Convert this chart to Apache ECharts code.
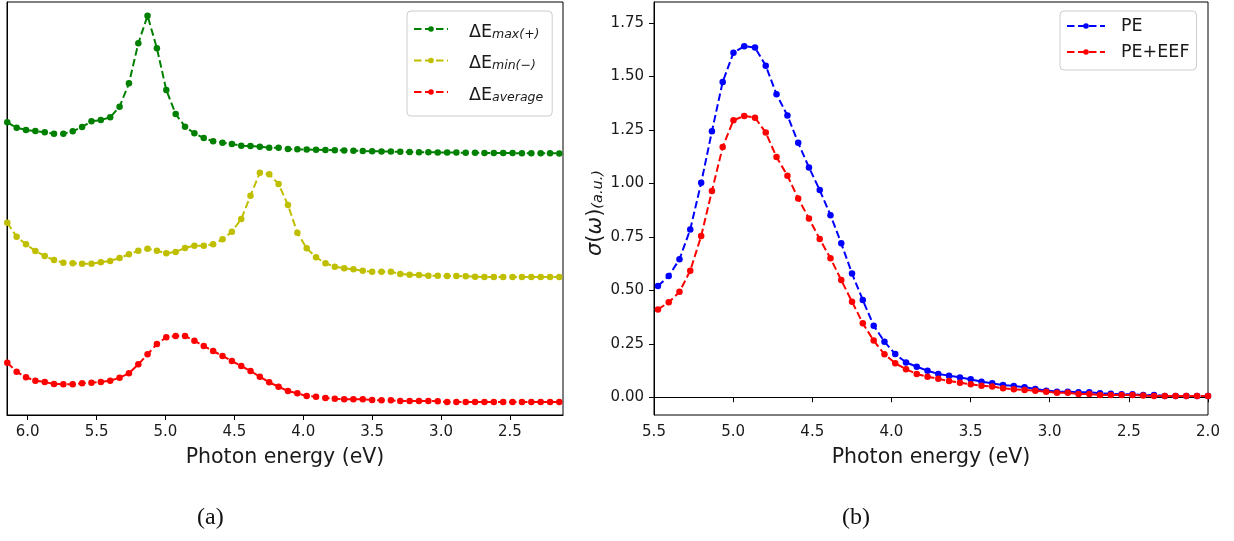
<!DOCTYPE html>
<html>
<head>
<meta charset="utf-8">
<script src="https://cdn.jsdelivr.net/npm/echarts@6/dist/echarts.min.js"></script>
<style>
html,body{margin:0;padding:0;background:#fff;}
#chart{width:1234px;height:541px;}
</style>
</head>
<body>
<div id="chart"></div>
<script>
// ---------- Panel (a) data ----------
const energyA = [6.148,6.080,6.012,5.944,5.876,5.809,5.741,5.673,5.605,5.537,
  5.469,5.401,5.333,5.265,5.197,5.130,5.062,4.994,4.926,4.858,
  4.790,4.722,4.654,4.586,4.518,4.450,4.383,4.315,4.247,4.179,
  4.111,4.043,3.975,3.907,3.839,3.771,3.703,3.636,3.568,3.500,
  3.432,3.364,3.296,3.228,3.160,3.092,3.024,2.956,2.889,2.821,
  2.753,2.685,2.617,2.549,2.481,2.413,2.345,2.277,2.209,2.142];
const dEmax = [2.927,2.873,2.850,2.840,2.827,2.813,2.813,2.837,2.880,2.937,
  2.950,2.977,3.083,3.317,3.717,3.993,3.667,3.250,3.010,2.883,
  2.817,2.770,2.737,2.723,2.710,2.693,2.690,2.683,2.673,2.673,
  2.660,2.657,2.655,2.652,2.650,2.648,2.645,2.643,2.640,2.638,
  2.636,2.634,2.632,2.630,2.628,2.627,2.626,2.625,2.624,2.623,
  2.622,2.621,2.620,2.620,2.619,2.618,2.618,2.617,2.617,2.616];
const dEmin = [1.923,1.783,1.707,1.640,1.590,1.550,1.523,1.517,1.513,1.513,
  1.527,1.540,1.570,1.607,1.643,1.663,1.643,1.617,1.630,1.670,
  1.693,1.693,1.707,1.757,1.833,1.960,2.193,2.423,2.407,2.310,
  2.100,1.823,1.667,1.577,1.517,1.483,1.467,1.457,1.443,1.433,
  1.433,1.433,1.410,1.403,1.400,1.393,1.393,1.390,1.390,1.387,
  1.383,1.380,1.380,1.380,1.380,1.380,1.380,1.380,1.380,1.380];
const dEavg = [0.523,0.433,0.377,0.343,0.330,0.310,0.307,0.307,0.317,0.323,
  0.330,0.343,0.373,0.417,0.507,0.607,0.710,0.777,0.790,0.790,
  0.743,0.690,0.640,0.590,0.540,0.490,0.440,0.383,0.327,0.283,
  0.240,0.217,0.190,0.183,0.170,0.163,0.157,0.157,0.157,0.150,
  0.147,0.147,0.140,0.140,0.140,0.140,0.137,0.130,0.130,0.130,
  0.130,0.130,0.130,0.130,0.130,0.130,0.130,0.130,0.130,0.130];
const ticksAX = [6.0,5.5,5.0,4.5,4.0,3.5,3.0,2.5];

// ---------- Panel (b) data ----------
const energyB = [5.475,5.407,5.339,5.271,5.202,5.134,5.066,4.998,4.930,4.862,
  4.794,4.726,4.657,4.589,4.521,4.453,4.385,4.317,4.249,4.181,
  4.112,4.044,3.976,3.908,3.840,3.772,3.704,3.636,3.567,3.499,
  3.431,3.363,3.295,3.227,3.159,3.091,3.022,2.954,2.886,2.818,
  2.750,2.682,2.614,2.546,2.477,2.409,2.341,2.273,2.205,2.137,
  2.069,2.000];
const sigmaPE = [0.520,0.567,0.646,0.785,1.003,1.244,1.475,1.612,1.642,1.636,
  1.551,1.417,1.318,1.190,1.075,0.969,0.852,0.720,0.579,0.455,
  0.335,0.260,0.202,0.163,0.143,0.124,0.109,0.101,0.093,0.084,
  0.073,0.065,0.057,0.053,0.047,0.039,0.031,0.026,0.026,0.023,
  0.023,0.019,0.016,0.014,0.014,0.011,0.011,0.006,0.006,0.006,
  0.006,0.006];
const sigmaPEEEF = [0.411,0.444,0.493,0.592,0.754,0.965,1.171,1.296,1.316,1.308,
  1.238,1.124,1.036,0.930,0.836,0.740,0.650,0.548,0.447,0.346,
  0.265,0.201,0.159,0.131,0.109,0.096,0.086,0.076,0.068,0.061,
  0.054,0.050,0.042,0.037,0.034,0.031,0.026,0.021,0.021,0.015,
  0.015,0.011,0.011,0.011,0.011,0.008,0.006,0.006,0.006,0.006,
  0.006,0.006];
const ticksBX = [5.5,5.0,4.5,4.0,3.5,3.0,2.5,2.0];
const ticksBY = [0.00,0.25,0.50,0.75,1.00,1.25,1.50,1.75];

const legendLabels = {
  'dEmax': '{sp|}{m|ΔE}{s|max(+)}',
  'dEmin': '{sp|}{m|ΔE}{s|min(−)}',
  'dEavg': '{sp|}{m|ΔE}{s|average}',
  'PE': '{sp2|}{m|PE}',
  'PE+EEF': '{sp2|}{m|PE+EEF}'
};

const FONT = 'DejaVu Sans';
const TXT = '#1a1a1a';

function pairs(xs, ys){ return xs.map((x,i)=>[x, ys[i]]); }

function lineSeries(name, xs, ys, color, idx){
  return {
    name: name, type: 'line', xAxisIndex: idx, yAxisIndex: idx,
    data: pairs(xs, ys),
    symbol: 'circle', symbolSize: 6.5, showSymbol: true,
    lineStyle: {color: color, width: 2, type: [7.5, 3.5]},
    itemStyle: {color: color},
    clip: true, z: 3
  };
}

function xAxisCommon(){
  return {
    type: 'value',
    axisLine: {show: true, lineStyle: {color: '#000', width: 1}},
    axisTick: {show: true, length: 5, lineStyle: {color: '#000', width: 1}},
    axisLabel: {color: TXT, fontFamily: FONT, fontSize: 15, margin: 10,
                formatter: v => v.toFixed(1)},
    splitLine: {show: false},
    nameLocation: 'middle', nameGap: 32,
    nameTextStyle: {color: TXT, fontFamily: FONT, fontSize: 20.5}
  };
}

const chart = echarts.init(document.getElementById('chart'), null, {renderer: 'canvas'});

const xa = Object.assign(xAxisCommon(), {
  gridIndex: 0, inverse: true, min: 2.115, max: 6.150, name: 'Photon energy (eV)'
});
xa.axisTick.customValues = ticksAX;
xa.axisLabel.customValues = ticksAX;

const xb = Object.assign(xAxisCommon(), {
  gridIndex: 1, inverse: true, min: 2.0, max: 5.5, interval: 0.5, name: 'Photon energy (eV)'
});
xb.axisTick.customValues = ticksBX;
xb.axisLabel.customValues = ticksBX;

const option = {
  animation: false,
  backgroundColor: '#fff',
  grid: [
    {left: 7, top: 2, width: 556, height: 413, show: true, borderColor: '#000', borderWidth: 1, backgroundColor: 'transparent'},
    {left: 654, top: 2, width: 554, height: 413, show: true, borderColor: '#000', borderWidth: 1, backgroundColor: 'transparent'}
  ],
  xAxis: [xa, xb],
  yAxis: [
    {gridIndex: 0, type: 'value', min: 0, max: 4.13,
     axisLine: {show: true, lineStyle: {color: '#000'}},
     axisTick: {show: false}, axisLabel: {show: false}, splitLine: {show: false}},
    {gridIndex: 1, type: 'value', min: -0.083, max: 1.849,
     axisLine: {show: true, lineStyle: {color: '#000'}},
     axisTick: {show: true, length: 5, lineStyle: {color: '#000'}, customValues: ticksBY},
     axisLabel: {color: TXT, fontFamily: FONT, fontSize: 15, margin: 10,
                 customValues: ticksBY, formatter: v => v.toFixed(2)},
     splitLine: {show: false},
     name: '{g|σ}{p|(}{g|ω}{p|)}{b|(a.u.)}',
     nameLocation: 'middle', nameGap: 48, nameRotate: 90,
     nameTextStyle: {
       color: TXT, fontFamily: FONT, padding: [0, 9, 0, 0],
       rich: {
         g: {fontSize: 21, fontStyle: 'italic', fontFamily: FONT, color: TXT, lineHeight: 24, verticalAlign: 'bottom'},
         p: {fontSize: 21, fontFamily: FONT, color: TXT, lineHeight: 24, verticalAlign: 'bottom'},
         b: {fontSize: 14.5, fontStyle: 'italic', fontFamily: FONT, color: TXT, lineHeight: 13, verticalAlign: 'bottom'}
       }
     }}
  ],
  legend: [
    {
      data: ['dEmax', 'dEmin', 'dEavg'],
      orient: 'vertical', left: 407, top: 11,
      itemWidth: 34, itemHeight: 7, itemGap: 13.5,
      padding: [12, 9, 12, 6],
      backgroundColor: 'rgba(255,255,255,0.8)',
      borderColor: '#cccccc', borderWidth: 1, borderRadius: 4,
      formatter: n => legendLabels[n],
      textStyle: {
        color: TXT, fontFamily: FONT,
        rich: {
          sp: {width: 16},
          m: {fontSize: 17.5, fontFamily: FONT, color: TXT, lineHeight: 24, verticalAlign: 'bottom'},
          s: {fontSize: 12.5, fontStyle: 'italic', fontFamily: FONT, color: TXT, lineHeight: 16, verticalAlign: 'bottom'}
        }
      }
    },
    {
      data: ['PE', 'PE+EEF'],
      orient: 'vertical', left: 1060, top: 11,
      itemWidth: 38, itemHeight: 7, itemGap: 8,
      padding: [6, 7, 9, 6],
      backgroundColor: 'rgba(255,255,255,0.8)',
      borderColor: '#cccccc', borderWidth: 1, borderRadius: 4,
      formatter: n => legendLabels[n],
      textStyle: {
        color: TXT, fontFamily: FONT,
        rich: {
          sp2: {width: 11},
          m: {fontSize: 17.5, fontFamily: FONT, color: TXT, lineHeight: 20}
        }
      }
    }
  ],
  series: [
    lineSeries('dEmax', energyA, dEmax, '#008000', 0),
    lineSeries('dEmin', energyA, dEmin, '#bfbf00', 0),
    lineSeries('dEavg', energyA, dEavg, '#ff0000', 0),
    lineSeries('PE', energyB, sigmaPE, '#0000ff', 1),
    lineSeries('PE+EEF', energyB, sigmaPEEEF, '#ff0000', 1)
  ],
  graphic: [
    {type: 'text', left: 197, top: 506,
     style: {text: '(a)', font: '24px "Liberation Serif", "DejaVu Serif", serif', fill: '#111'}},
    {type: 'text', left: 842, top: 506,
     style: {text: '(b)', font: '24px "Liberation Serif", "DejaVu Serif", serif', fill: '#111'}}
  ]
};

chart.setOption(option);
</script>
</body>
</html>
